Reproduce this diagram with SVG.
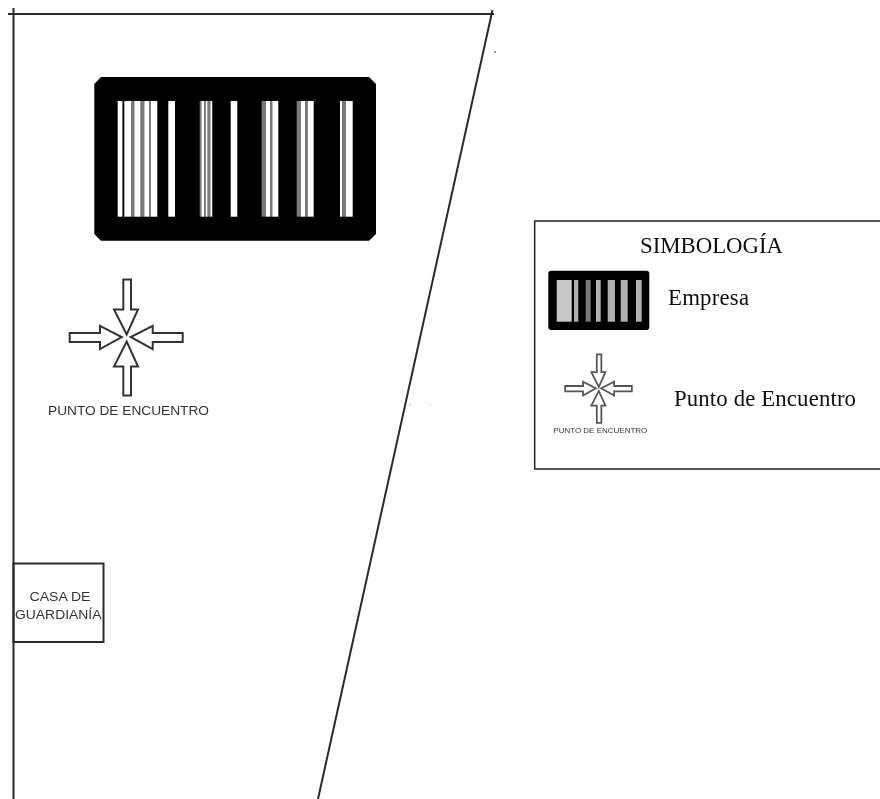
<svg xmlns="http://www.w3.org/2000/svg" width="880" height="799" viewBox="0 0 880 799">
<style>
.ln{fill:none;stroke:#2a2a2a;stroke-width:2}
.w{fill:#fff}
.g{fill:#7a7a7a}
.lg{fill:#b0b0b0}
.serif{font-family:"Liberation Serif","Times New Roman",serif;font-size:22.8px;fill:#111}
.sans{font-family:"Liberation Sans",Arial,sans-serif;fill:#333}
.arrow{fill:#fff;stroke:#333;stroke-width:2;stroke-linejoin:miter}
.soft{filter:url(#b)}
.softer{filter:url(#c)}
</style>
<defs>
<filter id="b" filterUnits="userSpaceOnUse" x="0" y="0" width="880" height="799"><feGaussianBlur stdDeviation="0.6"/></filter>
<filter id="c" filterUnits="userSpaceOnUse" x="0" y="0" width="880" height="799"><feGaussianBlur stdDeviation="0.4"/></filter>
<g id="arrows">
<path d="M-3.4-58H4.3V-28H11.3L0-3 -12.7-28H-3.4Z"/>
<path d="M-3.4 58H4.3V29H11.3L0 4 -12.7 29H-3.4Z"/>
<path d="M-57-4.4H-26.7V-11.7L-5-0.5-26.7 11.6V4.6H-57Z"/>
<path d="M56-4.4H26V-11.7L4-0.5 26 11.6V4.6H56Z"/>
</g>
</defs>
<rect width="880" height="799" fill="#fff"/>
<g id="connectors" class="softer">
<path class="ln" d="M13.5 8V799"/>
<path class="ln" d="M8 14H494"/>
<path class="ln" d="M492.500 10 318 799"/>
</g>
<g id="empresa" class="softer">
<path fill="#000" d="M101 77H369L376 84V234L369 240.700H101L94.300 234V84Z"/>
<rect class="w" x="117.700" y="101" width="4.700" height="115.700"/>
<rect class="w" x="124.300" y="101" width="6.700" height="115.700"/>
<rect class="g" x="131" y="101" width="3.300" height="115.700"/>
<rect class="w" x="134.300" y="101" width="6.400" height="115.700"/>
<rect class="g" x="140.700" y="101" width="3.600" height="115.700"/>
<rect class="w" x="144.300" y="101" width="4.700" height="115.700"/>
<rect class="g" x="149" y="101" width="2" height="115.700"/>
<rect class="w" x="151" y="101" width="6.300" height="115.700"/>
<rect class="w" x="168.300" y="101" width="6.700" height="115.700"/>
<rect class="g" x="199.700" y="101" width="1.700" height="115.700"/>
<rect class="w" x="201.400" y="101" width="3" height="115.700"/>
<rect class="g" x="204.400" y="101" width="1.300" height="115.700"/>
<rect class="w" x="205.700" y="101" width="2" height="115.700"/>
<rect class="g" x="207.700" y="101" width="2.600" height="115.700"/>
<rect class="w" x="210.300" y="101" width="2" height="115.700"/>
<rect class="w" x="230.700" y="101" width="6.600" height="115.700"/>
<rect class="g" x="261.700" y="101" width="4.300" height="115.700"/>
<rect class="w" x="266" y="101" width="4" height="115.700"/>
<rect class="g" x="270" y="101" width="2.300" height="115.700"/>
<rect class="w" x="272.300" y="101" width="6" height="115.700"/>
<rect class="g" x="296.700" y="101" width="4.300" height="115.700"/>
<rect class="w" x="301" y="101" width="4" height="115.700"/>
<rect class="g" x="305" y="101" width="2.700" height="115.700"/>
<rect class="w" x="307.700" y="101" width="6" height="115.700"/>
<rect class="w" x="340" y="101" width="2.300" height="115.700"/>
<rect class="g" x="342.300" y="101" width="3.700" height="115.700"/>
<rect class="w" x="346" y="101" width="6.700" height="115.700"/>
</g>
<g id="punto-encuentro">
<g class="soft"><use href="#arrows" class="arrow" transform="translate(126.700 337.500)"/></g>
<text class="sans soft" x="48" y="415" font-size="12" textLength="161" lengthAdjust="spacingAndGlyphs">PUNTO DE ENCUENTRO</text>
</g>
<g id="casa-guardiania">
<rect x="13.500" y="563.500" width="90" height="78.500" class="ln softer"/>
<text class="sans soft" x="29.500" y="600.500" font-size="12.500" textLength="61" lengthAdjust="spacingAndGlyphs">CASA DE</text>
<text class="sans soft" x="15" y="619" font-size="12.500" textLength="86.500" lengthAdjust="spacingAndGlyphs">GUARDIANÍA</text>
</g>
<g id="specks" fill="#777">
<circle cx="495" cy="52" r="1"/>
<circle cx="410" cy="405" r="1" fill="#ccc"/>
<circle cx="430" cy="405" r="1" fill="#ddd"/>
</g>
<g id="simbologia">
<rect x="534.700" y="221" width="360" height="248" fill="#fff" stroke="#222" stroke-width="1.500"/>
<text class="serif softer" x="640" y="253" textLength="143">SIMBOLOGÍA</text>
<g id="legend-empresa">
<g class="soft">
<rect x="548.300" y="270.700" width="101" height="59.300" rx="3" fill="#000"/>
<rect x="556.700" y="280" width="15" height="41.700" fill="#c8c8c8"/>
<rect class="lg" x="574" y="280" width="4.300" height="41.700"/>
<rect class="g" x="585.700" y="280" width="5" height="41.700"/>
<rect class="lg" x="596" y="280" width="4.700" height="41.700"/>
<rect class="lg" x="607.700" y="280" width="7.300" height="41.700"/>
<rect class="lg" x="620.700" y="280" width="7" height="41.700"/>
<rect class="lg" x="636" y="280" width="5.700" height="41.700"/>
</g>
<text class="serif softer" x="668" y="305" textLength="81">Empresa</text>
</g>
<g id="legend-punto">
<g class="soft"><use href="#arrows" class="arrow" style="stroke:#555;stroke-width:3" transform="translate(598.800 388.600) scale(.59)"/></g>
<text class="sans soft" x="553.300" y="433.300" font-size="7" textLength="94" lengthAdjust="spacingAndGlyphs">PUNTO DE ENCUENTRO</text>
<text class="serif softer" x="674" y="406" textLength="182">Punto de Encuentro</text>
</g>
</g>
</svg>
